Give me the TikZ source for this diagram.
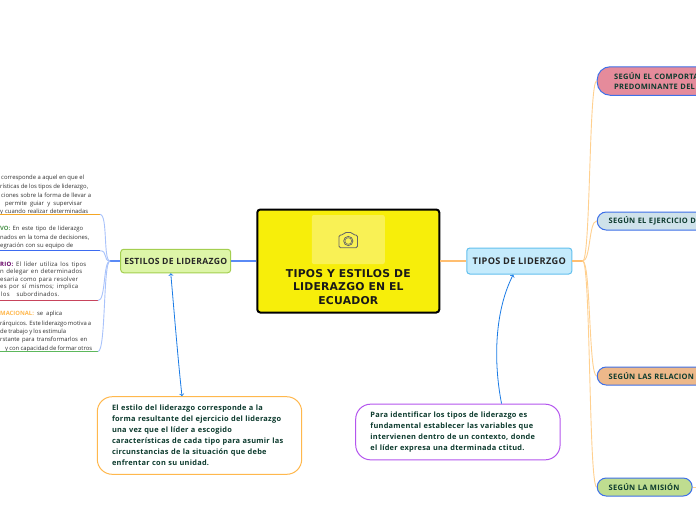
\documentclass[tikz,border=0pt]{standalone}
\usepackage{fontspec}
\setmainfont{Open Sans}
\newfontfamily\titlefont[LetterSpace=2]{DejaVu Sans}
\newfontfamily\notafont[LetterSpace=3.5]{Open Sans}
\newcommand{\hoja}{\notafont\fontsize{6}{7}\selectfont}
\definecolor{inkgreen}{HTML}{0D3B2E}
\definecolor{ramalazul}{HTML}{A9C3FB}
\definecolor{talloazul}{HTML}{5A8AF5}
\definecolor{ramalnaranja}{HTML}{FFD08F}
\definecolor{tallonaranja}{HTML}{FFBE70}
\definecolor{flecha}{HTML}{1A7BE6}
\definecolor{borde}{HTML}{3E70E8}
\definecolor{amarillo}{HTML}{F7EE0A}
\definecolor{amarillof}{HTML}{F9F155}
\definecolor{verdef}{HTML}{DDF5A8}
\definecolor{verded}{HTML}{A4CF50}
\definecolor{celestef}{HTML}{C5EBFC}
\definecolor{celested}{HTML}{62C0EE}
\definecolor{rosaf}{HTML}{E58B9B}
\definecolor{grisf}{HTML}{CFE2EA}
\definecolor{salmonf}{HTML}{EDB88A}
\definecolor{limaf}{HTML}{BFDD90}
\definecolor{rayaa}{HTML}{F5A623}
\definecolor{rayab}{HTML}{3D6BF0}
\definecolor{rayac}{HTML}{C8445C}
\definecolor{rayad}{HTML}{5CB85C}
\definecolor{notaa}{HTML}{FFB84D}
\definecolor{notab}{HTML}{B455EE}
\begin{document}
\begin{tikzpicture}[x=1pt,y=-1pt]
  \tikzstyle{leaf}=[inner sep=0pt,anchor=mid west,text=black!80,font=\fontsize{5.9}{7}\selectfont]
  \tikzstyle{tema}=[draw,rounded corners=3pt,line width=1pt,minimum height=23.5pt,inner sep=0pt,text=black!85,font=\notafont\fontsize{8.6}{9}\selectfont\bfseries]
  \tikzstyle{nota}=[draw,fill=white,rounded corners=15pt,line width=1pt,inner sep=0pt,align=left,text=inkgreen,font=\notafont\fontsize{7.4}{11}\selectfont\bfseries]
  \tikzstyle{tipo}=[draw=borde,rounded corners=9pt,line width=1pt,anchor=west,minimum height=18pt,inner ysep=0pt,align=left,text=inkgreen,font=\notafont\fontsize{7.5}{10.7}\selectfont\bfseries]
  \tikzstyle{ramal}=[line width=.9pt]
  \useasboundingbox (0,0) rectangle (696,520);
  \clip (0,0) rectangle (696,520);
  \fill[white] (0,0) rectangle (696,520);
  % centre
  \node[draw=black,fill=amarillo,rounded corners=3pt,line width=2pt,
    minimum width=182pt,minimum height=103pt,inner sep=0pt] (centro) at (348.3,261) {};
  \node[fill=amarillof,rounded corners=2pt,minimum width=73pt,minimum height=49pt,inner sep=0pt]
    (foto) at (348.3,239.5) {};
  \node[anchor=north,align=center,inner sep=0pt,text=black!90,
    font=\titlefont\fontsize{10.8}{13.5}\selectfont\bfseries] (titulo) at (348.3,269)
    {TIPOS Y ESTILOS DE\\LIDERAZGO EN EL\\ECUADOR};
  % camera
  \draw[black!60,line width=.8pt,rounded corners=1.5pt]
    (339,235) -- (343,235) -- (344.5,232.5) -- (352,232.5) -- (353.5,235) -- (357.5,235)
    -- (357.5,247.7) -- (339,247.7) -- cycle;
  \draw[black!60,line width=.8pt] (348.3,241) circle (4.6pt);
  \draw[black!60,line width=.5pt] (348.3,241) circle (3.3pt);
  % main topics
  \node[tema,draw=verded,fill=verdef,minimum width=110pt] (estilos) at (175.7,261)
    {ESTILOS DE LIDERAZGO};
  \node[tema,draw=celested,fill=celestef,minimum width=105pt,minimum height=26pt,
    font=\notafont\fontsize{9.2}{9}\selectfont\bfseries] (tipos) at (519.3,261) {TIPOS DE LIDERZGO};
  \coordinate (nudo-e) at (110,261);
  \coordinate (nudo-t) at (582.7,261);
  \draw[talloazul,line width=1.2pt] (centro) -- (estilos);
  \draw[talloazul,line width=1.2pt] (estilos) -- (nudo-e);
  \draw[tallonaranja,line width=1.2pt] (centro) -- (tipos);
  \draw[tallonaranja,line width=1.2pt] (tipos) -- (nudo-t);
  % left text, cut by the page edge
  \foreach \i/\y/\a/\w/\t in {
    1/176.7/1/83/{corresponde a aquel en que el},
    2/186/0/88/{rísticas de los tipos de liderazgo,},
    3/194.5/1/90/{ciones sobre la forma de llevar a},
    4/202.5/5/77/{permite guiar y supervisar},
    5/211/0/88/{y cuando realizar determinadas},
    6/227.7/0/83/{\textcolor{rayad!80!black}{\bfseries VO:} En este tipo de liderazgo},
    7/236.7/0/89/{nados en la toma de decisiones,},
    8/245/0/73/{egración con su equipo de},
    9/264/0/86/{\hoja\textcolor{violet!80!black}{\bfseries RIO:} El líder utiliza los tipos},
    10/271/0/82/{\hoja n delegar en determinados},
    11/279/0/78/{\hoja esaria como para resolver},
    12/286/0/78/{\hoja es por sí mismos; implica},
    13/294/1/58/{\hoja los subordinados.},
    14/313.3/0/62/{\textcolor{notaa}{\bfseries MACIONAL:} se aplica},
    15/322.7/0/90/{rárquicos. Este liderazgo motiva a},
    16/331/0/66/{de trabajo y los estimula},
    17/339.3/0/87/{rstante para transformarlos en},
    18/347.7/5/87/{y con capacidad de formar otros}}
    \node[leaf] (leaf-\i) at (\a,\y) {\makebox[\w pt][s]{\t}};
  % underlines and their branches
  \foreach \i/\y/\e/\c in {1/214.4/100/rayaa,2/250.7/100/rayab,3/300.7/98/rayac,4/351.5/98/rayad} {
    \coordinate (raya-\i) at (\e,\y);
    \coordinate (inicio-\i) at (0,\y);
    \draw[\c,line width=1.4pt] (inicio-\i) -- (raya-\i);
    \draw[ramalazul,ramal] (raya-\i) .. controls +(8,0) and +(-7,0) .. (nudo-e);
  }
  % right topics
  \node[tipo,fill=rosaf,rounded corners=13pt,minimum width=200pt,minimum height=28.5pt,inner xsep=17pt,text width=166pt] (comporta) at (596.7,81)
    {SEGÚN EL COMPORTA\\PREDOMINANTE DEL};
  \node[tipo,fill=grisf,minimum width=200pt,inner xsep=11.5pt,text width=177pt] (ejercicio) at (596.7,221)
    {SEGÚN EL EJERCICIO D};
  \node[tipo,fill=salmonf,minimum width=200pt,inner xsep=11.5pt,text width=177pt] (relacion) at (596.7,376)
    {SEGÚN LAS RELACION};
  \node[tipo,fill=limaf,minimum width=95pt,inner xsep=11.5pt,text width=72pt] (mision) at (596.7,487)
    {SEGÚN LA MISIÓN};
  \coordinate (cola) at (696,487);
  \draw[ramalnaranja,ramal] (mision) -- (cola);
  \foreach \n in {comporta,ejercicio,relacion,mision}
    \draw[ramalnaranja,ramal] (nudo-t) .. controls +(8,0) and +(-8,0) .. (\n.west);
  % notes
  \node[nota,draw=notaa,minimum width=204.4pt,minimum height=77.6pt,text width=175pt] (notaestilos) at (199.5,435.5)
    {El estilo del liderazgo corresponde a la\\forma resultante del ejercicio del liderazgo\\una vez que el líder a escogido\\características de cada tipo para asumir las\\circunstancias de la situación que debe\\enfrentar con su unidad.};
  \node[nota,draw=notab,minimum width=204.4pt,minimum height=55.7pt,text width=175pt] (notatipos) at (457.9,432)
    {Para identificar los tipos de liderazgo es\\fundamental establecer las variables que\\intervienen dentro de un contexto, donde\\el líder expresa una dterminada ctitud.};
  \draw[flecha,line width=.8pt,<->] (notaestilos.114.6) .. controls (178,360) and (174,310) .. (estilos.248.6);
  \draw[flecha,line width=.8pt,->] (notatipos.33.3) .. controls (493,360) and (495,310) .. (tipos.246.8);
\end{tikzpicture}
\end{document}
